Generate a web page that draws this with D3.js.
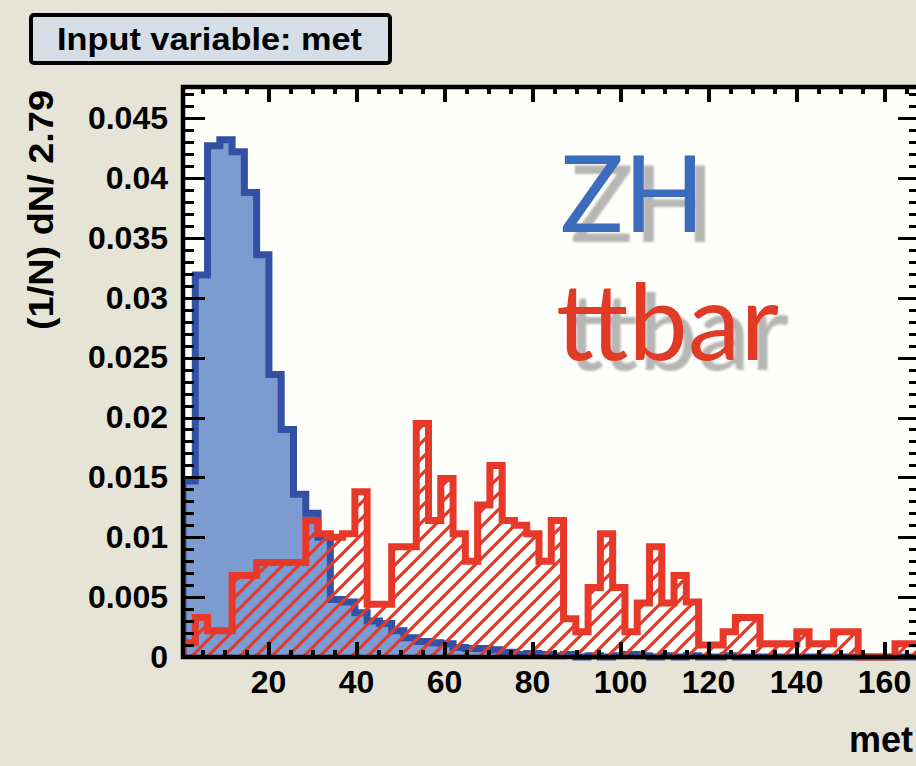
<!DOCTYPE html>
<html lang="en">
<head>
<meta charset="UTF-8">
<title>Input variable: met</title>
<script src="https://d3js.org/d3.v7.min.js"></script>
<style>
  body { margin: 0; background: #e6e4d7; }
  svg { display: block; }
  .lbl { font-family: "Liberation Sans", Arial, Helvetica, sans-serif; font-weight: bold; fill: #000; }
  .tick line { shape-rendering: crispEdges; }
</style>
</head>
<body>
<svg id="chart" width="916" height="766"></svg>
<script>
// histogram binning: 60 bins of 2.79 starting at 0.68
const xMin = 0.68;
const binWidth = 2.79;
const nBins = 60;

// normalised bin contents
const zhValues = [
  0.0147, 0.0319, 0.0427, 0.0432, 0.0422, 0.0388, 0.0336, 0.0236, 0.0190, 0.0136,
  0.0120, 0.0100, 0.0048, 0.0046, 0.0037, 0.0030, 0.0028, 0.0022, 0.0016, 0.0013,
  0.0012, 0.0011, 0.0008, 0.0007, 0.0007, 0.0006, 0.0004, 0.0002, 0.0003, 0.0002,
  0.0001, 0.0002, 0.0000, 0.0001, 0.0000, 0.0001, 0.0002, 0.0001, 0.0000, 0.0001,
  0.0000, 0.0001, 0.0000, 0.0000, 0.0001, 0.0000, 0.0000, 0.0000, 0.0000, 0.0000,
  0.0000, 0.0000, 0.0000, 0.0000, 0.0000, 0.0000, 0.0000, 0.0000, 0.0000, 0.0000
];
const ttbarValues = [
  0.0012, 0.0033, 0.0022, 0.0022, 0.0068, 0.0068, 0.0079, 0.0079, 0.0079, 0.0079,
  0.0114, 0.0103, 0.0100, 0.0103, 0.0138, 0.0044, 0.0044, 0.0092, 0.0092, 0.0195,
  0.0114, 0.0149, 0.0103, 0.0080, 0.0127, 0.0160, 0.0114, 0.0110, 0.0103, 0.0080,
  0.0114, 0.0032, 0.0021, 0.0058, 0.0103, 0.0058, 0.0021, 0.0045, 0.0092, 0.0045,
  0.0068, 0.0046, 0.0010, 0.0010, 0.0021, 0.0033, 0.0033, 0.0011, 0.0011, 0.0011,
  0.0021, 0.0011, 0.0011, 0.0021, 0.0021, 0.0000, 0.0000, 0.0000, 0.0011, 0.0011
];

const xTicks = [20, 40, 60, 80, 100, 120, 140, 160];
const yTicks = [0, 0.005, 0.01, 0.015, 0.02, 0.025, 0.03, 0.035, 0.04, 0.045];

const xMax = xMin + nBins * binWidth;

// plot frame
const padL = 183, padT = 87, padB = 657;
const padR = padL + (xMax - xMin) * 4.4;

const svg = d3.select("#chart");

const x = d3.scaleLinear().domain([xMin, xMax]).range([padL, padR]);
const y = d3.scaleLinear().domain([0, 0.0476]).range([padB, padT]);

const defs = svg.append("defs");

// hatch for ttbar
const hatch = defs.append("pattern")
    .attr("id", "hatch")
    .attr("patternUnits", "userSpaceOnUse")
    .attr("width", 16).attr("height", 16);
hatch.append("path")
    .attr("d", "M-4,4 L4,-4 M0,16 L16,0 M12,20 L20,12")
    .attr("stroke", "#e8382a")
    .attr("stroke-width", 3.3);

// grey drop shadow for the sample names
defs.append("filter").attr("id", "shadow")
    .attr("x", "-10%").attr("y", "-10%").attr("width", "130%").attr("height", "140%")
  .append("feDropShadow")
    .attr("dx", 10).attr("dy", 10).attr("stdDeviation", 1.2)
    .attr("flood-color", "#a9a9a9").attr("flood-opacity", 0.85);

defs.append("clipPath").attr("id", "plotclip")
  .append("rect")
    .attr("x", padL).attr("y", padT)
    .attr("width", padR - padL).attr("height", padB - padT + 5);

// background of the pad
svg.append("rect")
    .attr("x", padL).attr("y", padT)
    .attr("width", padR - padL).attr("height", padB - padT)
    .attr("fill", "#fefefa");

function stepPoints(values) {
  const pts = [[xMin, 0]];
  values.forEach((v, i) => {
    pts.push([xMin + i * binWidth, v]);
    pts.push([xMin + (i + 1) * binWidth, v]);
  });
  pts.push([xMax, 0]);
  return pts;
}

const area = d3.area().x(d => x(d[0])).y0(y(0)).y1(d => y(d[1]));
const line = d3.line().x(d => x(d[0])).y(d => y(d[1]));

const g = svg.append("g").attr("clip-path", "url(#plotclip)");

const zhPts = stepPoints(zhValues);
const ttPts = stepPoints(ttbarValues);

g.append("path").attr("d", area(zhPts)).attr("fill", "#7b9bd1");
g.append("path").attr("d", line(zhPts))
    .attr("fill", "none").attr("stroke", "#3350a3").attr("stroke-width", 7)
    .attr("stroke-linejoin", "miter");

g.append("path").attr("d", area(ttPts)).attr("fill", "url(#hatch)");
g.append("path").attr("d", line(ttPts))
    .attr("fill", "none").attr("stroke", "#e8382a").attr("stroke-width", 7)
    .attr("stroke-linejoin", "miter");

// axes
const xMinor = d3.range(5, 170, 5).filter(v => v % 20 !== 0);
const yMinor = d3.range(1, 48).map(i => i / 1000).filter(v => Math.round(v * 1000) % 5 !== 0);

function styleAxis(sel, w) {
  sel.select(".domain").remove();
  sel.selectAll(".tick line").attr("stroke", "#000").attr("stroke-width", w);
}

svg.append("g").attr("transform", `translate(0,${padB})`)
    .call(d3.axisBottom(x).tickValues(xTicks).tickSize(-15).tickPadding(13).tickFormat(d3.format("d")))
    .call(s => styleAxis(s, 4))
    .call(s => s.selectAll("text").attr("class", "lbl").style("font-size", "32px"));
svg.append("g").attr("transform", `translate(0,${padB})`)
    .call(d3.axisBottom(x).tickValues(xMinor).tickSize(-7).tickFormat(""))
    .call(s => styleAxis(s, 4));

svg.append("g").attr("transform", `translate(0,${padT})`)
    .call(d3.axisTop(x).tickValues(xTicks).tickSize(-15).tickFormat(""))
    .call(s => styleAxis(s, 4));
svg.append("g").attr("transform", `translate(0,${padT})`)
    .call(d3.axisTop(x).tickValues(xMinor).tickSize(-7).tickFormat(""))
    .call(s => styleAxis(s, 4));

svg.append("g").attr("transform", `translate(${padL},0)`)
    .call(d3.axisLeft(y).tickValues(yTicks).tickSize(-22).tickPadding(15).tickFormat(d3.format(".3~f")))
    .call(s => styleAxis(s, 3))
    .call(s => s.selectAll("text").attr("class", "lbl").style("font-size", "32px"));
svg.append("g").attr("transform", `translate(${padL},0)`)
    .call(d3.axisLeft(y).tickValues(yMinor).tickSize(-11).tickFormat(""))
    .call(s => styleAxis(s, 3));

svg.append("g").attr("transform", `translate(${padR},0)`)
    .call(d3.axisRight(y).tickValues(yTicks).tickSize(-22).tickFormat(""))
    .call(s => styleAxis(s, 3));
svg.append("g").attr("transform", `translate(${padR},0)`)
    .call(d3.axisRight(y).tickValues(yMinor).tickSize(-11).tickFormat(""))
    .call(s => styleAxis(s, 3));

// frame
svg.append("rect")
    .attr("x", padL).attr("y", padT)
    .attr("width", padR - padL).attr("height", padB - padT)
    .attr("fill", "none").attr("stroke", "#000").attr("stroke-width", 4.5);

// axis titles
svg.append("text").attr("class", "lbl")
    .attr("transform", "translate(53,90) rotate(-90)")
    .attr("text-anchor", "end")
    .style("font-size", "35px")
    .attr("textLength", 240).attr("lengthAdjust", "spacingAndGlyphs")
    .text("(1/N) dN/ 2.79");

svg.append("text").attr("class", "lbl")
    .attr("x", 913).attr("y", 752)
    .attr("text-anchor", "end")
    .style("font-size", "36px")
    .text("met");

// title box
svg.append("rect")
    .attr("x", 31).attr("y", 15).attr("width", 359).attr("height", 48)
    .attr("rx", 3)
    .attr("fill", "#d5dde7").attr("stroke", "#000").attr("stroke-width", 4);
svg.append("text").attr("class", "lbl")
    .attr("x", 57).attr("y", 50)
    .style("font-size", "31px")
    .attr("textLength", 305).attr("lengthAdjust", "spacingAndGlyphs")
    .text("Input variable: met");

// sample labels
const samples = [
  { name: "ZH", color: "#3c6cbf", x: 560, y: 232 },
  { name: "ttbar", color: "#e03a27", x: 556, y: 360 }
];
samples.forEach(s => {
  svg.append("text")
      .attr("x", s.x).attr("y", s.y)
      .attr("filter", "url(#shadow)")
      .style("font-family", "Lato, 'Open Sans', sans-serif")
      .style("font-size", "106px")
      .attr("fill", s.color)
      .text(s.name);
});
</script>
</body>
</html>
